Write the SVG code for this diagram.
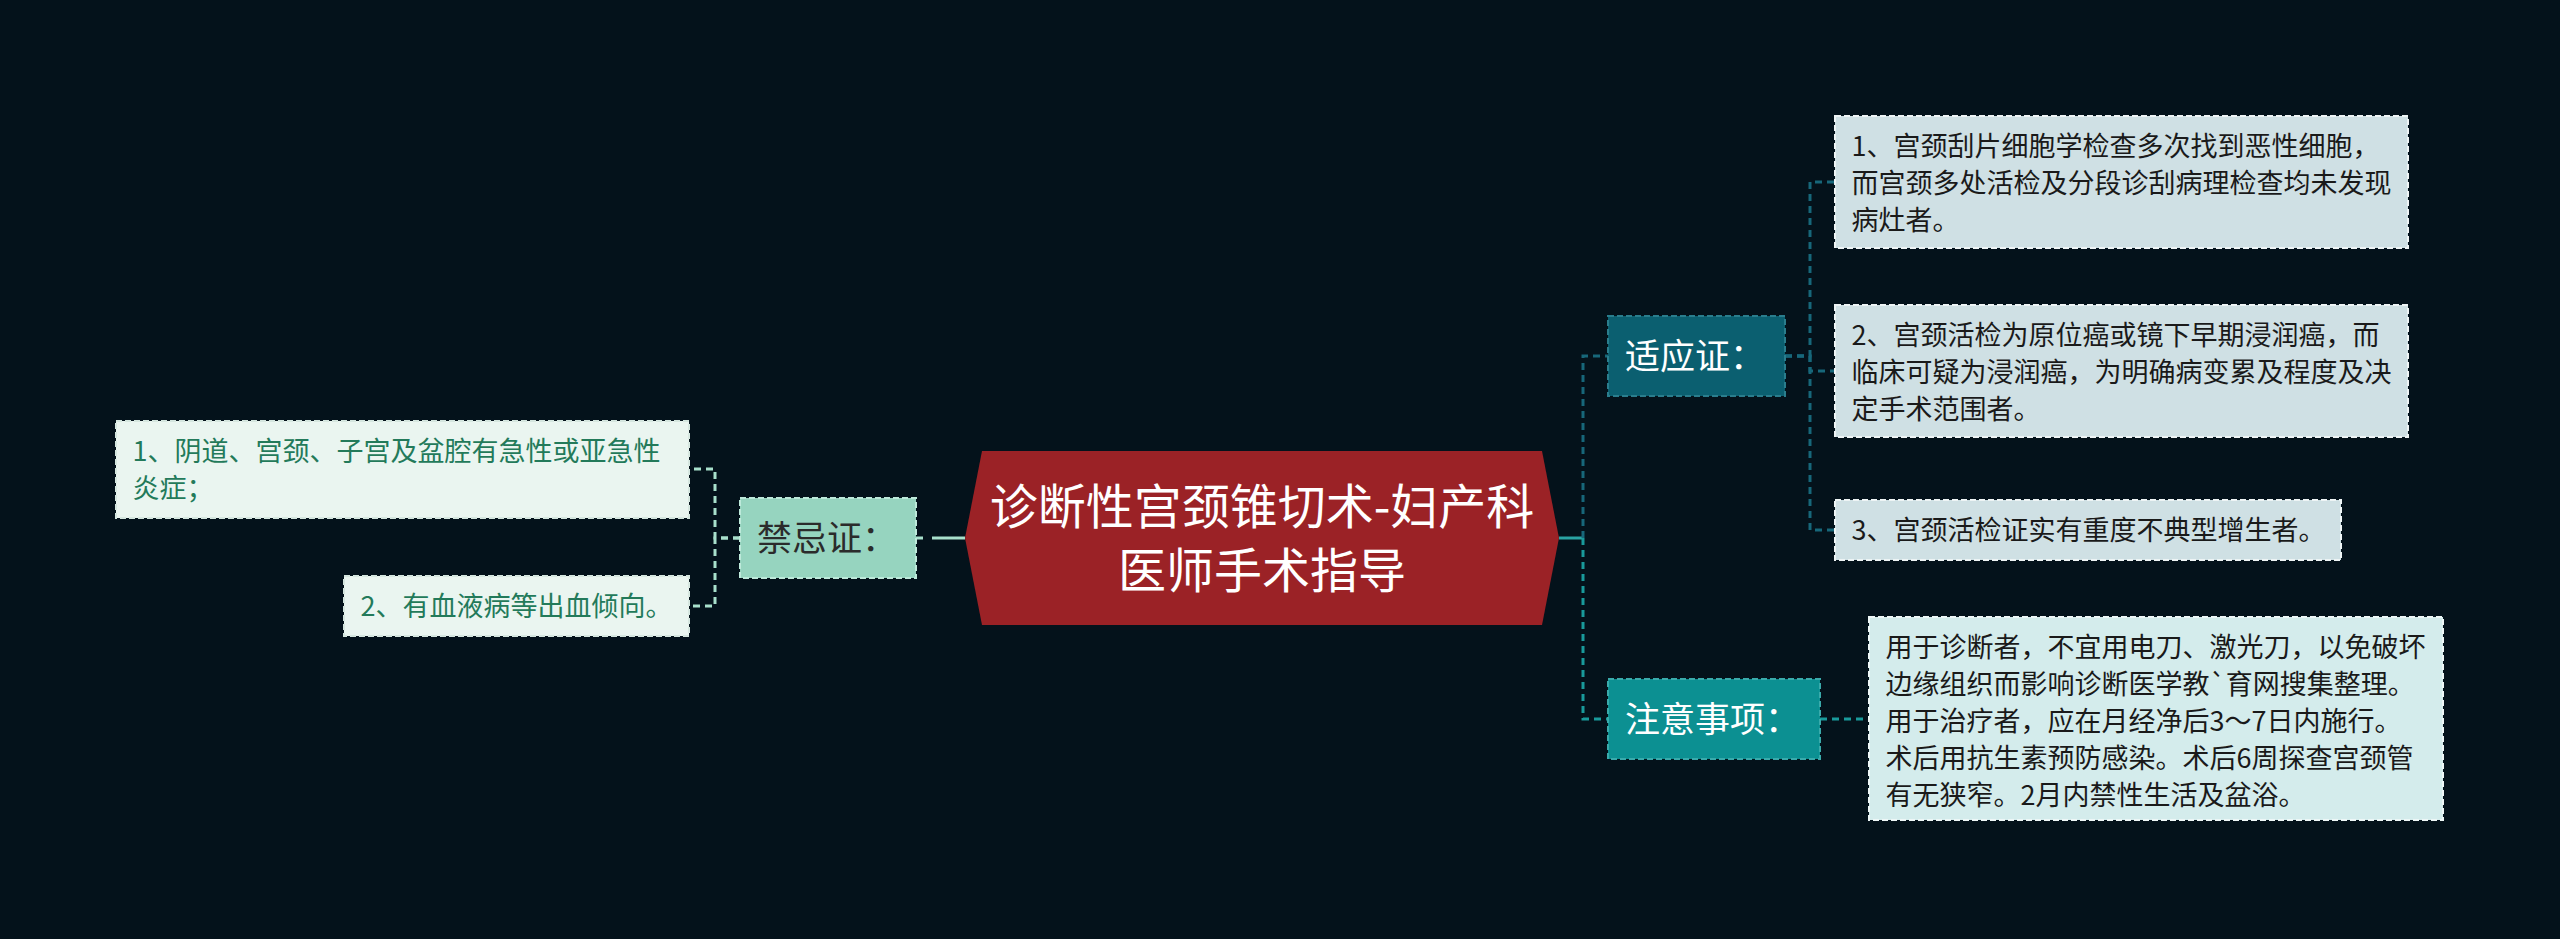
<svg xmlns="http://www.w3.org/2000/svg" width="2560" height="939" viewBox="0 0 2560 939">
<style>
text{font-family:"Noto Sans CJK SC","Microsoft YaHei",sans-serif}
.leaf{font-size:27px}
.br{font-size:35px}
.root{font-size:48px;fill:#ffffff}
.con{fill:none;stroke-width:3;stroke-dasharray:7 5}
.solid{fill:none;stroke-width:3}
.box{stroke-width:2;stroke-dasharray:6 3}
</style>
<rect x="0" y="0" width="2560" height="939" fill="#04121b"/>
<g id="connectors">
  <line class="solid" x1="965" y1="538" x2="932" y2="538" stroke="#a8e0cc"/>
  <line class="solid" x1="923" y1="538" x2="916" y2="538" stroke="#a8e0cc"/>
  <path class="con" d="M740 538 H715 V469 H690" stroke="#a8e0cc"/>
  <path class="con" d="M740 538 H715 V606 H690" stroke="#a8e0cc"/>
  <line class="solid" x1="1559" y1="538" x2="1583" y2="538" stroke="#2aa3a3"/>
  <path class="con" d="M1583 538 V356 H1608" stroke="#17677a"/>
  <path class="con" d="M1583 538 V719 H1608" stroke="#199a9b"/>
  <path class="con" d="M1785 356 H1810 V182 H1835" stroke="#17677a"/>
  <path class="con" d="M1785 356 H1810 V371 H1835" stroke="#17677a"/>
  <path class="con" d="M1785 356 H1810 V530 H1835" stroke="#17677a"/>
  <path class="con" d="M1820 719 H1869" stroke="#199a9b"/>
</g>
<g id="root">
  <polygon points="982,451 1542,451 1559,538 1542,625 982,625 965,538" fill="#9b2226"/>
  <text class="root" x="1262" y="524" text-anchor="middle">诊断性宫颈锥切术-妇产科</text>
  <text class="root" x="1262" y="588" text-anchor="middle">医师手术指导</text>
</g>
<g id="jinjizheng">
  <rect class="box" x="740" y="498" width="176" height="80" fill="#96d4bf" stroke="#bde9da"/>
  <text class="br" x="757" y="551" fill="#2b2b2b">禁忌证：</text>
</g>
<g id="left1">
  <rect class="box" x="116" y="421" width="573" height="97" fill="#eaf5f0" stroke="#d5e6df"/>
  <text class="leaf" x="132.5" y="460.5" fill="#237a5a">1、阴道、宫颈、子宫及盆腔有急性或亚急性</text>
  <text class="leaf" x="132.5" y="497.5" fill="#237a5a">炎症；</text>
</g>
<g id="left2">
  <rect class="box" x="344" y="576" width="345" height="60" fill="#eaf5f0" stroke="#d5e6df"/>
  <text class="leaf" x="360.5" y="616" fill="#237a5a">2、有血液病等出血倾向。</text>
</g>
<g id="shiyingzheng">
  <rect class="box" x="1608" y="316" width="177" height="80" fill="#0b5f70" stroke="#2a7d8d"/>
  <text class="br" x="1625" y="369" fill="#ffffff">适应证：</text>
</g>
<g id="r1">
  <rect class="box" x="1835" y="116" width="573" height="132" fill="#cfe0e4" stroke="#eef4f5"/>
  <text class="leaf" x="1851.5" y="155.5" fill="#1a1a1a">1、宫颈刮片细胞学检查多次找到恶性细胞，</text>
  <text class="leaf" x="1851.5" y="192.5" fill="#1a1a1a">而宫颈多处活检及分段诊刮病理检查均未发现</text>
  <text class="leaf" x="1851.5" y="229.5" fill="#1a1a1a">病灶者。</text>
</g>
<g id="r2">
  <rect class="box" x="1835" y="305" width="573" height="132" fill="#cfe0e4" stroke="#eef4f5"/>
  <text class="leaf" x="1851.5" y="344.5" fill="#1a1a1a">2、宫颈活检为原位癌或镜下早期浸润癌，而</text>
  <text class="leaf" x="1851.5" y="381.5" fill="#1a1a1a">临床可疑为浸润癌，为明确病变累及程度及决</text>
  <text class="leaf" x="1851.5" y="418.5" fill="#1a1a1a">定手术范围者。</text>
</g>
<g id="r3">
  <rect class="box" x="1835" y="500" width="506" height="60" fill="#cfe0e4" stroke="#eef4f5"/>
  <text class="leaf" x="1851.5" y="540" fill="#1a1a1a">3、宫颈活检证实有重度不典型增生者。</text>
</g>
<g id="zhuyishixiang">
  <rect class="box" x="1608" y="679" width="212" height="80" fill="#0c9092" stroke="#3aaaab"/>
  <text class="br" x="1625" y="732" fill="#ffffff">注意事项：</text>
</g>
<g id="r4">
  <rect class="box" x="1869" y="617" width="574" height="203" fill="#d4ecec" stroke="#eef7f7"/>
  <text class="leaf" x="1885.5" y="656.5" fill="#1a1a1a">用于诊断者，不宜用电刀、激光刀，以免破坏</text>
  <text class="leaf" x="1885.5" y="693.5" fill="#1a1a1a">边缘组织而影响诊断医学教`育网搜集整理。</text>
  <text class="leaf" x="1885.5" y="730.5" fill="#1a1a1a">用于治疗者，应在月经净后3～7日内施行。</text>
  <text class="leaf" x="1885.5" y="767.5" fill="#1a1a1a">术后用抗生素预防感染。术后6周探查宫颈管</text>
  <text class="leaf" x="1885.5" y="804.5" fill="#1a1a1a">有无狭窄。2月内禁性生活及盆浴。</text>
</g>
</svg>
